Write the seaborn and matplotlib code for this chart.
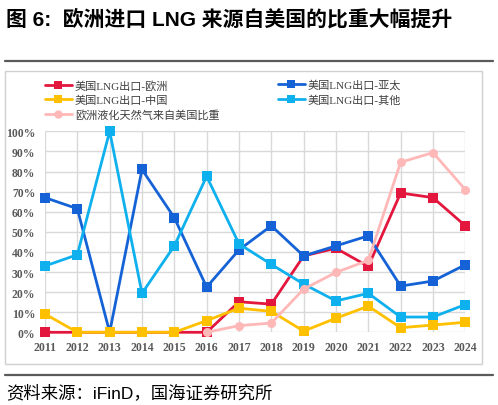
import numpy as np
import pandas as pd
import matplotlib
matplotlib.use("Agg")
import matplotlib.pyplot as plt
import seaborn as sns
from matplotlib.lines import Line2D
from matplotlib.patches import Rectangle
from matplotlib.ticker import PercentFormatter

years = list(range(2011, 2025))
us_to_europe = [0, 0, 0, 0, 0, 0, 15.2, 14.0, 38.0, 41.8, 32.8, 69.3, 67.0, 53.0]
us_to_asia = [67.0, 61.5, 0, 81.0, 57.0, 22.5, 41.0, 53.0, 38.0, 43.0, 48.0, 23.0, 25.5, 33.6]
us_to_china = [9.1, 0, 0, 0, 0, 5.8, 12.0, 10.4, 0.6, 7.0, 13.0, 2.3, 3.6, 5.0]
us_to_other = [33.0, 38.6, 100.0, 19.4, 43.0, 77.6, 44.0, 33.8, 24.0, 15.6, 19.4, 7.6, 7.6, 13.8]
eu_share_years = list(range(2016, 2025))
eu_share_from_us = [0, 3.3, 4.6, 21.5, 29.8, 35.8, 84.6, 89.4, 71.0]

labels = ["美国LNG出口-欧洲", "美国LNG出口-亚太", "美国LNG出口-中国",
          "美国LNG出口-其他", "欧洲液化天然气来自美国比重"]
colors = ["#E3173E", "#1462D6", "#FFC000", "#0FB0EE", "#FFB8B8"]

sns.set_theme(style="white")
plt.rcParams['font.family'] = ['Liberation Serif', 'Noto Sans CJK SC']

W, H = 498, 406
fig = plt.figure(figsize=(W / 100, H / 100), dpi=100)
ax = fig.add_axes([45 / W, 1 - 333.3 / H, (465.3 - 45) / W, (333.3 - 132.3) / H])

series = [
    (years, us_to_europe, labels[0], colors[0], "s"),
    (years, us_to_asia, labels[1], colors[1], "s"),
    (years, us_to_china, labels[2], colors[2], "s"),
    (years, us_to_other, labels[3], colors[3], "s"),
    (eu_share_years, eu_share_from_us, labels[4], colors[4], "o"),
]
order = [0, 1, 3, 2, 4]
for idx in order:
    x, y, lab, col, mk = series[idx]
    df = pd.DataFrame({"year": x, "value": np.array(y) / 100.0})
    sns.lineplot(data=df, x="year", y="value", ax=ax, color=col, marker=mk,
                 markersize=6.5, markeredgewidth=0,
                 linewidth=2.0, label=lab, clip_on=False, zorder=3)
if ax.get_legend() is not None:
    ax.get_legend().remove()

ax.set_xlim(2011, 2024)
ax.set_ylim(0, 1)
ax.set_xticks(years)
ax.set_yticks(np.arange(0, 1.01, 0.1))
ax.yaxis.set_major_formatter(PercentFormatter(1.0, decimals=0))
ax.grid(True, color="#D9D9D9", linewidth=1.0)
ax.set_axisbelow(True)
for s in ax.spines.values():
    s.set_visible(False)
ax.set_xlabel("")
ax.set_ylabel("")
ax.tick_params(axis="y", length=0, labelsize=8.4, labelcolor="#595959", pad=7)
ax.tick_params(axis="x", length=0, labelsize=8.6, labelcolor="#595959", pad=6)
for t in ax.get_xticklabels() + ax.get_yticklabels():
    t.set_fontweight("bold")
    t.set_family(["Liberation Serif"])

def mk_handle(i):
    x, y, lab, col, mk = series[i]
    return Line2D([0], [0], color=col, linewidth=2.0, marker=mk, markersize=6,
                  markeredgewidth=0, label=lab)

leg_kw = dict(frameon=False, handlelength=2.4, handletextpad=0.3,
              labelspacing=0.38, borderpad=0, borderaxespad=0, labelcolor="#404040",
              loc="upper left", prop={'family': ['Liberation Serif', 'Noto Sans CJK SC'], 'size': 8})
fig.legend(handles=[mk_handle(0), mk_handle(2), mk_handle(4)],
           bbox_to_anchor=(45 / W, 1 - 80.5 / H), **leg_kw)
fig.legend(handles=[mk_handle(1), mk_handle(3)],
           bbox_to_anchor=(278 / W, 1 - 80.5 / H), **leg_kw)

fig.patches.append(Rectangle((5 / W, 1 - 365 / H), (482 - 5) / W, (365 - 72) / H,
                             transform=fig.transFigure, fill=False,
                             edgecolor="#D0D0D0", linewidth=1.0))
for yy in (62, 376):
    fig.lines.append(Line2D([5 / W, 493 / W], [1 - yy / H, 1 - yy / H],
                            transform=fig.transFigure, color="#5A5A5A", linewidth=1.6))

fig.text(6 / W, 1 - 19 / H, "图 6:  欧洲进口 LNG 来源自美国的比重大幅提升",
         fontsize=15, fontweight="bold", va="center", ha="left",
         family=["Liberation Sans", "Noto Sans CJK SC"], color="#000000")
fig.text(6 / W, 1 - 393 / H, "资料来源：iFinD，国海证券研究所",
         fontsize=12.5, va="center", ha="left",
         family=["Liberation Sans", "Noto Sans CJK SC"], color="#000000")

fig.savefig("out.png", dpi=100)
